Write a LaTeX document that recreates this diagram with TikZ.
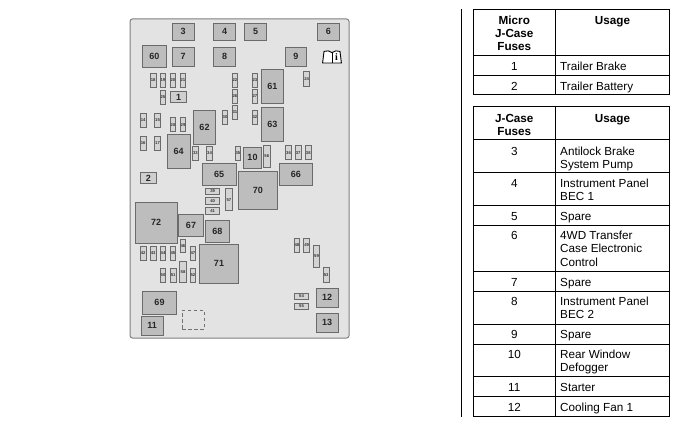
\documentclass[tikz,border=0pt]{standalone}
\usepackage{fontspec}
\setmainfont{Liberation Sans}
\newfontfamily\bookfont{Liberation Serif}
\tikzset{
  x=1pt,y=-1pt,
  panel/.style={draw=black!50,fill=black!11,line width=1pt,rounded corners=2.5pt},
  relay/.style={draw=black!58,fill=black!26,line width=.9pt,inner sep=0pt,outer sep=0pt,font=\bfseries\fontsize{9}{9}\selectfont,text=black!85},
  microbox/.style={relay,fill=black!19},
  fuse/.style={draw=black!58,fill=black!17,line width=.8pt,inner sep=0pt,outer sep=0pt,font=\bfseries\fontsize{4.2}{4.2}\selectfont,text=black!80},
  dashbox/.style={draw=black!55,dashed,dash pattern=on 3.4pt off 2.6pt,line width=.8pt,inner sep=0pt,outer sep=0pt},
  rulebar/.style={draw=black,line width=1pt},
  cellc/.style={anchor=north,inner sep=0pt,align=center,font=\fontsize{11.7}{13.3}\selectfont},
  celll/.style={anchor=north west,inner sep=0pt,align=left,font=\fontsize{11.7}{13.3}\selectfont},
  head/.style={anchor=north,inner sep=0pt,align=center,font=\bfseries\fontsize{11.7}{13.1}\selectfont},
  bookline/.style={draw=black,line width=.9pt,fill=white,line join=round},
  booki/.style={inner sep=0pt,text=black,font=\bookfont\bfseries\fontsize{10}{10}\selectfont},
}
\newcommand{\bx}[7][]{%
  \pgfmathsetmacro{\bxw}{#5-#3}\pgfmathsetmacro{\bxh}{#6-#4}%
  \pgfmathsetmacro{\bxcx}{(#5+#3)/2}\pgfmathsetmacro{\bxcy}{(#6+#4)/2}%
  \node[#1,minimum width=\bxw pt,minimum height=\bxh pt] (#2) at (\bxcx,\bxcy) {#7};}
\newcommand{\st}{\rule{0pt}{9pt}}
\begin{document}
\begin{tikzpicture}
\useasboundingbox (0,0) rectangle (682,428);
\path[fill=white] (0,0) rectangle (682,428);
% panel
\path[panel] (130,19) rectangle (349,338);
% J-case relays and large boxes
\bx[relay]{b3}{172.3}{23}{194}{40.7}{3}
\bx[relay]{b4}{213.3}{23}{235.7}{40.7}{4}
\bx[relay]{b5}{244.7}{23}{266.3}{40.7}{5}
\bx[relay]{b6}{317.3}{23}{339.3}{40.7}{6}
\bx[relay]{b60}{142.3}{45.3}{166.3}{67.3}{60}
\bx[relay]{b7}{172.3}{47.7}{194}{66}{7}
\bx[relay]{b8}{213.3}{47.7}{235.7}{66}{8}
\bx[relay]{b9}{285}{47.7}{306.7}{66}{9}
\bx[microbox]{b1}{170.3}{91.7}{186.7}{102.7}{1}
\bx[microbox]{b2}{140.3}{172.3}{156.7}{183.7}{2}
\bx[relay]{b61}{261}{69.3}{283.7}{103.3}{61}
\bx[relay]{b63}{261}{107.3}{283.7}{141.7}{63}
\bx[relay]{b62}{193.3}{110.3}{215.7}{144.3}{62}
\bx[relay]{b64}{167.3}{134.3}{190}{168.3}{64}
\bx[relay]{b10}{243.3}{147.3}{261.7}{168.3}{10}
\bx[relay]{b65}{202.3}{163.7}{236}{185.3}{65}
\bx[relay]{b66}{279}{163.3}{312.7}{185.7}{66}
\bx[relay]{b70}{238.3}{171}{277.3}{209.7}{70}
\bx[relay]{b72}{135.3}{202.3}{177}{243.3}{72}
\bx[relay]{b67}{178.3}{214.3}{203.7}{236.7}{67}
\bx[relay]{b68}{205}{220.3}{229.7}{242.7}{68}
\bx[relay]{b71}{199.7}{244.3}{238.3}{283.3}{71}
\bx[relay]{b69}{142.3}{291.3}{176.7}{314.3}{69}
\bx[relay]{b11}{141.3}{316.3}{163}{335}{11}
\bx[relay]{b12}{316.3}{288.3}{338}{307}{12}
\bx[relay]{b13}{316.3}{313.3}{338}{332}{13}
\bx[dashbox]{dash}{182.3}{310.3}{204.3}{329.3}{}
% small fuses
\bx[fuse]{f18}{150.3}{73.3}{156}{87.3}{18}
\bx[fuse]{f19}{160}{73.3}{165.7}{87.3}{19}
\bx[fuse]{f20}{170}{73.3}{175.7}{87.3}{20}
\bx[fuse]{f21}{180}{73.3}{185.7}{87.3}{21}
\bx[fuse]{f25}{160}{90}{165.7}{104}{25}
\bx[fuse]{f22}{232}{73.3}{237.7}{87.3}{22}
\bx[fuse]{f26}{232}{89.3}{237.7}{103}{26}
\bx[fuse]{f31}{232}{105.3}{237.7}{119}{31}
\bx[fuse]{f30}{222.3}{110.3}{227.7}{124.3}{30}
\bx[fuse]{f23}{252}{73.3}{257.7}{87.3}{23}
\bx[fuse]{f27}{252}{89.3}{257.7}{103}{27}
\bx[fuse]{f32}{252}{110}{257.7}{124}{32}
\bx[fuse]{f24}{303.7}{71.7}{309.7}{86.7}{24}
\bx[fuse]{f14}{140.3}{113.3}{146}{127.3}{14}
\bx[fuse]{f15}{154.7}{113.3}{160.3}{127.3}{15}
\bx[fuse]{f28}{170.3}{117.7}{175.7}{131.7}{28}
\bx[fuse]{f29}{180.3}{117.7}{185.7}{131.7}{29}
\bx[fuse]{f16}{140.3}{136.3}{146}{150.3}{16}
\bx[fuse]{f17}{154.7}{136.3}{160.3}{150.3}{17}
\bx[fuse]{f33}{192.7}{146.7}{198}{160.3}{33}
\bx[fuse]{f34}{206.7}{146.7}{212.3}{160.3}{34}
\bx[fuse]{f35}{235}{146.3}{240.7}{160}{35}
\bx[fuse]{f56}{263.3}{145.3}{270.3}{167.3}{56}
\bx[fuse]{f36}{285.7}{145.7}{291.3}{159.7}{36}
\bx[fuse]{f37}{295.3}{145.7}{301}{159.7}{37}
\bx[fuse]{f38}{305.3}{145.7}{311.3}{159.7}{38}
\bx[fuse]{f39}{205.7}{188}{219.7}{194.3}{39}
\bx[fuse]{f40}{205.7}{197.7}{219.7}{204}{40}
\bx[fuse]{f41}{205.7}{207.7}{219.7}{214.3}{41}
\bx[fuse]{f57}{225.7}{188.7}{232}{210.7}{57}
\bx[fuse]{f42}{140.3}{246.3}{146}{260.3}{42}
\bx[fuse]{f43}{150.3}{246.3}{156}{260.3}{43}
\bx[fuse]{f44}{160.3}{246.3}{165.7}{260.3}{44}
\bx[fuse]{f45}{170}{246.3}{175.7}{260.3}{45}
\bx[fuse]{f46}{180}{239}{185.7}{252.7}{46}
\bx[fuse]{f47}{190}{246.3}{195.7}{260.3}{47}
\bx[fuse]{f50}{160.3}{268.3}{165.7}{282.3}{50}
\bx[fuse]{f51}{170.3}{268.3}{176}{282.3}{51}
\bx[fuse]{f58}{179.7}{261}{186.3}{282.3}{58}
\bx[fuse]{f52}{190}{268.3}{195.7}{282.3}{52}
\bx[fuse]{f48}{294}{238}{299.7}{252.3}{48}
\bx[fuse]{f49}{303.7}{238}{309.7}{252.3}{49}
\bx[fuse]{f59}{313.3}{245.3}{319.7}{267.3}{59}
\bx[fuse]{f53}{323.3}{267.7}{329}{282.3}{53}
\bx[fuse]{f54}{294.3}{293.3}{308.7}{299}{54}
\bx[fuse]{f55}{294.3}{303.3}{308.7}{309.3}{55}
% book icon
\path[bookline] (332,52.6) .. controls (330,50.6) and (326.5,50.4) .. (324,51.4)
  -- (322.6,63) -- (341.4,63) -- (340,51.4)
  .. controls (337.5,50.4) and (334,50.6) .. (332,52.6) -- cycle;
\draw[bookline] (332,52.6) -- (332,63);
\node[booki] (bookI) at (336.5,57.4) {i};
% separator
\draw[rulebar] (461.7,9) -- (461.7,416.7);
% first table
\draw[rulebar] (473.3,9.3) rectangle (669.7,94.7);
\draw[rulebar] (555.3,9.3) -- (555.3,94.7);
\foreach \yy in {55.3,75.3} \draw[rulebar] (473.3,\yy) -- (669.7,\yy);
\node[head] (t1a) at (514.3,15) {\st Micro\\J-Case\\Fuses};
\node[head] (t1b) at (612.5,15) {\st Usage};
\node[cellc] (c1) at (514.3,61.3) {\st 1};
\node[celll] (u1) at (560,61.3) {\st Trailer Brake};
\node[cellc] (c2) at (514.3,81) {\st 2};
\node[celll] (u2) at (560,81) {\st Trailer Battery};
% second table
\draw[rulebar] (473.3,106.7) rectangle (669.7,416.7);
\draw[rulebar] (555.3,106.7) -- (555.3,416.7);
\foreach \yy in {139.3,172.3,205.3,225.7,271,291,324,344,376.7,396.7} \draw[rulebar] (473.3,\yy) -- (669.7,\yy);
\node[head] (t2a) at (514.3,113) {\st J-Case\\Fuses};
\node[head] (t2b) at (612.5,113) {\st Usage};
\node[cellc] (c3) at (514.3,146) {\st 3};
\node[celll] (u3) at (560,146) {\st Antilock Brake\\System Pump};
\node[cellc] (c4) at (514.3,178.3) {\st 4};
\node[celll] (u4) at (560,178.3) {\st Instrument Panel\\BEC 1};
\node[cellc] (c5) at (514.3,211) {\st 5};
\node[celll] (u5) at (560,211) {\st Spare};
\node[cellc] (c6) at (514.3,230.3) {\st 6};
\node[celll] (u6) at (560,230.3) {\st 4WD Transfer\\Case Electronic\\Control};
\node[cellc] (c7) at (514.3,277) {\st 7};
\node[celll] (u7) at (560,277) {\st Spare};
\node[cellc] (c8) at (514.3,296.3) {\st 8};
\node[celll] (u8) at (560,296.3) {\st Instrument Panel\\BEC 2};
\node[cellc] (c9) at (514.3,329.7) {\st 9};
\node[celll] (u9) at (560,329.7) {\st Spare};
\node[cellc] (c10) at (514.3,349) {\st 10};
\node[celll] (u10) at (560,349) {\st Rear Window\\Defogger};
\node[cellc] (c11) at (514.3,382) {\st 11};
\node[celll] (u11) at (560,382) {\st Starter};
\node[cellc] (c12) at (514.3,402) {\st 12};
\node[celll] (u12) at (560,402) {\st Cooling Fan 1};
\end{tikzpicture}
\end{document}
